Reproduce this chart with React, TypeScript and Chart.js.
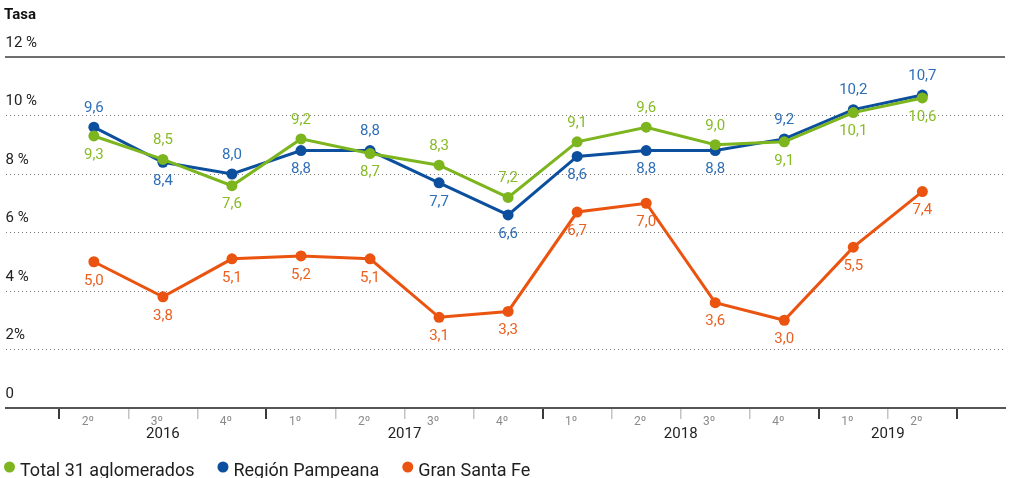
import React, { useEffect, useRef } from "react";
import { Chart, registerables } from "chart.js";

Chart.register(...registerables);

const quarterLabels = ["2º", "3º", "4º", "1º", "2º", "3º", "4º", "1º", "2º", "3º", "4º", "1º", "2º"];
const yearLabels = ["2016", "2017", "2018", "2019"];
const yTickLabels = ["0", "2%", "4 %", "6 %", "8 %", "10 %", "12 %"];

const seriesNames = ["Total 31 aglomerados", "Región Pampeana", "Gran Santa Fe"];
const totalValues = [9.3, 8.5, 7.6, 9.2, 8.7, 8.3, 7.2, 9.1, 9.6, 9.0, 9.1, 10.1, 10.6];
const pampeanaValues = [9.6, 8.4, 8.0, 8.8, 8.8, 7.7, 6.6, 8.6, 8.8, 8.8, 9.2, 10.2, 10.7];
const santaFeValues = [5.0, 3.8, 5.1, 5.2, 5.1, 3.1, 3.3, 6.7, 7.0, 3.6, 3.0, 5.5, 7.4];

// label side: a = above, b = below
const totalLabelSide = ["b", "a", "b", "a", "b", "a", "a", "a", "a", "a", "b", "b", "b"];
const pampeanaLabelSide = ["a", "b", "a", "b", "a", "b", "b", "b", "b", "b", "a", "a", "a"];
const santaFeLabelSide = ["b", "b", "b", "b", "b", "b", "b", "b", "b", "b", "b", "b", "b"];

const FONT = "Roboto, 'Noto Sans', sans-serif";
const lineColors = ["#7cb51e", "#0b4f9e", "#ea5410"];
const labelColors = ["#87bc26", "#2f6fb8", "#ec5f1f"];

const X_MIN = -1.28;
const X_MAX = 13.19;

function fmt(v: number) {
  return v.toFixed(1).replace(".", ",");
}

// year groups derived from quarter labels (new year starts at "1º")
function yearGroups() {
  const groups: { start: number; end: number }[] = [];
  let start = 0;
  for (let i = 1; i <= quarterLabels.length; i++) {
    if (i === quarterLabels.length || quarterLabels[i] === "1º") {
      groups.push({ start, end: i - 1 });
      start = i;
    }
  }
  return groups;
}

const dataLabelPlugin = {
  id: "dataLabels",
  afterDatasetsDraw(chart: any) {
    const ctx = chart.ctx;
    const sides = [totalLabelSide, pampeanaLabelSide, santaFeLabelSide];
    ctx.save();
    ctx.font = `15px ${FONT}`;
    ctx.textAlign = "center";
    ctx.textBaseline = "middle";
    chart.data.datasets.forEach((ds: any, di: number) => {
      const meta = chart.getDatasetMeta(di);
      ctx.fillStyle = labelColors[di];
      meta.data.forEach((pt: any, i: number) => {
        const v = ds.data[i].y;
        const off = sides[di][i] === "a" ? -19 : 19;
        ctx.fillText(fmt(v), pt.x, pt.y + off);
      });
    });
    ctx.restore();
  },
};

const legendPlugin = {
  id: "bottomLegend",
  afterDraw(chart: any) {
    const ctx = chart.ctx;
    ctx.save();
    ctx.font = `18px ${FONT}`;
    ctx.textBaseline = "alphabetic";
    ctx.textAlign = "left";
    let x = 4;
    chart.data.datasets.forEach((ds: any) => {
      ctx.fillStyle = ds.borderColor;
      ctx.beginPath();
      ctx.arc(x + 5.5, 467, 5.5, 0, Math.PI * 2);
      ctx.fill();
      ctx.fillStyle = "#1e1e1e";
      ctx.fillText(ds.label, x + 16, 476);
      x += 16 + ctx.measureText(ds.label).width + 23;
    });
    ctx.restore();
  },
};

export default function App() {
  const ref = useRef<HTMLCanvasElement | null>(null);

  useEffect(() => {
    document.body.style.margin = "0";
    const groups = yearGroups();
    const boundaries: number[] = [];
    for (let i = 0; i <= quarterLabels.length; i++) boundaries.push(i - 0.5);
    const majorSet = new Set<number>(groups.map((g) => g.start - 0.5));
    majorSet.add(quarterLabels.length - 0.5);

    const values = [totalValues, pampeanaValues, santaFeValues];
    const chart = new Chart(ref.current as HTMLCanvasElement, {
      type: "line",
      data: {
        datasets: values.map((vals, di) => ({
          label: seriesNames[di],
          data: vals.map((v, i) => ({ x: i, y: v })),
          borderColor: lineColors[di],
          backgroundColor: lineColors[di],
          pointBackgroundColor: lineColors[di],
          pointBorderWidth: 0,
          pointRadius: 5.5,
          borderWidth: 3,
          tension: 0,
          fill: false,
        })),
      },
      options: {
        responsive: false,
        animation: false,
        layout: { padding: { left: 4, right: 0, top: 0, bottom: 30 } },
        plugins: {
          legend: { display: false },
          tooltip: { enabled: false },
          title: {
            display: true,
            text: "Tasa",
            align: "start",
            color: "#111",
            font: { family: FONT, size: 15, weight: "bold" },
            padding: { top: 6, bottom: 33 },
          },
        },
        scales: {
          x: {
            type: "linear",
            position: "bottom",
            weight: 0,
            min: X_MIN,
            max: X_MAX,
            afterBuildTicks: (s: any) => {
              s.ticks = boundaries.map((v) => ({ value: v }));
            },
            afterFit: (s: any) => {
              s.height = 2;
            },
            ticks: { display: false },
            grid: {
              display: true,
              drawOnChartArea: false,
              drawTicks: true,
              tickLength: 11,
              color: (c: any) => (c.tick && majorSet.has(c.tick.value) ? "#3a3a3a" : "#c4c4c4"),
              lineWidth: (c: any) => (c.tick && majorSet.has(c.tick.value) ? 2 : 1.5),
            },
            border: { display: true, color: "#555", width: 2 },
          },
          xq: {
            type: "linear",
            position: "bottom",
            weight: 1,
            min: X_MIN,
            max: X_MAX,
            afterBuildTicks: (s: any) => {
              s.ticks = quarterLabels.map((_, i) => ({ value: i }));
            },
            afterFit: (s: any) => {
              s.height = 17;
            },
            ticks: {
              autoSkip: false,
              maxRotation: 0,
              padding: 5,
              labelOffset: -6,
              color: "#8a8a8a",
              font: { family: FONT, size: 12 },
              callback: (_v: any, i: number) => quarterLabels[i],
            },
            grid: { display: false, drawTicks: false },
            border: { display: false },
          },
          xy: {
            type: "linear",
            position: "bottom",
            weight: 2,
            min: X_MIN,
            max: X_MAX,
            afterBuildTicks: (s: any) => {
              s.ticks = groups.map((g) => ({ value: (g.start + g.end) / 2 }));
            },
            afterFit: (s: any) => {
              s.height = 21;
            },
            ticks: {
              autoSkip: false,
              maxRotation: 0,
              padding: -1.5,
              color: "#222",
              font: { family: FONT, size: 15 },
              callback: (_v: any, i: number) => yearLabels[i],
            },
            grid: { display: false, drawTicks: false },
            border: { display: false },
          },
          xt: {
            type: "linear",
            position: "top",
            min: X_MIN,
            max: X_MAX,
            afterFit: (s: any) => {
              s.height = 0;
            },
            ticks: { display: false },
            grid: { display: false, drawTicks: false },
            border: { display: true, color: "#6e6e6e", width: 2 },
          },
          y: {
            type: "linear",
            position: "left",
            min: 0,
            max: 12,
            ticks: {
              stepSize: 2,
              autoSkip: false,
              mirror: true,
              padding: 0,
              labelOffset: -14,
              color: "#222",
              font: { family: FONT, size: 15 },
              callback: (_v: any, i: number) => yTickLabels[i],
            },
            grid: {
              drawTicks: false,
              lineWidth: 1,
              color: (c: any) =>
                c.tick && (c.tick.value === 0 || c.tick.value === 12) ? "rgba(0,0,0,0)" : "#7a7a7a",
            },
            border: { display: false, dash: [1, 3] },
          },
        },
      } as any,
      plugins: [dataLabelPlugin, legendPlugin],
    });
    return () => chart.destroy();
  }, []);

  return (
    <div style={{ width: 1010, height: 478, overflow: "hidden" }}>
      <canvas ref={ref} width={1010} height={478} style={{ display: "block" }} />
    </div>
  );
}
